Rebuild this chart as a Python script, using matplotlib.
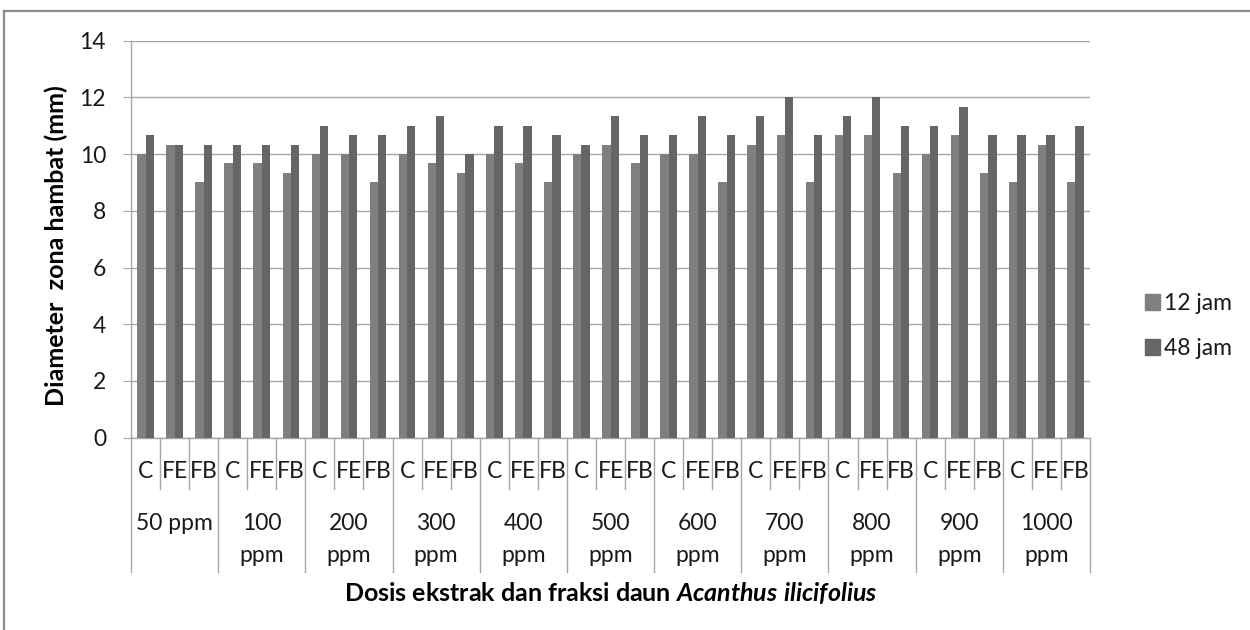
import numpy as np
import matplotlib
matplotlib.use("Agg")
import matplotlib.pyplot as plt
from matplotlib.lines import Line2D
from matplotlib.patches import Patch

plt.rcParams['font.family'] = ['Lato', 'DejaVu Sans']
plt.rcParams['mathtext.fontset'] = 'custom'
plt.rcParams['mathtext.it'] = 'Lato:italic:bold'
plt.rcParams['mathtext.rm'] = 'Lato:bold'

# data
doses = ["50 ppm", "100\nppm", "200\nppm", "300\nppm", "400\nppm", "500\nppm",
         "600\nppm", "700\nppm", "800\nppm", "900\nppm", "1000\nppm"]
treatments = ["C", "FE", "FB"]
jam12 = [10.0, 10.33, 9.0,
         9.67, 9.67, 9.33,
         10.0, 10.0, 9.0,
         10.0, 9.67, 9.33,
         10.0, 9.67, 9.0,
         10.0, 10.33, 9.67,
         10.0, 10.0, 9.0,
         10.33, 10.67, 9.0,
         10.67, 10.67, 9.33,
         10.0, 10.67, 9.33,
         9.0, 10.33, 9.0]
jam48 = [10.67, 10.33, 10.33,
         10.33, 10.33, 10.33,
         11.0, 10.67, 10.67,
         11.0, 11.33, 10.0,
         11.0, 11.0, 10.67,
         10.33, 11.33, 10.67,
         10.67, 11.33, 10.67,
         11.33, 12.0, 10.67,
         11.33, 12.0, 11.0,
         11.0, 11.67, 10.67,
         10.67, 10.67, 11.0]

W, H = 1250, 630
fig = plt.figure(figsize=(12.5, 6.3), dpi=100)
ax = fig.add_axes([131 / W, 1 - 437.7 / H, (1090 - 131) / W, (437.7 - 40.7) / H])

grid_c = '#a6a6a6'
text_c = '#1a1a1a'
fs = 16.5
x = np.arange(len(jam12))
bw = 0.286
ax.bar(x - bw / 2, jam12, bw, color='#7f7f7f', zorder=3, label='12 jam')
ax.bar(x + bw / 2, jam48, bw, color='#666666', zorder=3, label='48 jam')

ax.set_xlim(-0.5, len(x) - 0.5)
ax.set_ylim(0, 14)
ax.set_yticks(np.arange(0, 15, 2))
ax.yaxis.grid(True, color=grid_c, linewidth=1.0, zorder=0)
ax.tick_params(axis='y', length=6, color=grid_c, pad=12, labelsize=fs, labelcolor=text_c)
ax.set_xticks([])
for s in ['top', 'right']:
    ax.spines[s].set_visible(False)
for s in ['left', 'bottom']:
    ax.spines[s].set_color(grid_c)
    ax.spines[s].set_linewidth(1.0)


def ay(py):
    # pixel row -> axes fraction
    return (437.7 - py) / (437.7 - 40.7)


trans = ax.get_xaxis_transform()
n_t = len(treatments)
for i in range(len(x) + 1):
    bottom = 572 if i % n_t == 0 else 489
    ax.plot([i - 0.5, i - 0.5], [0, ay(bottom)], transform=trans, color=grid_c,
            lw=1.0, clip_on=False)
for i in range(len(x)):
    ax.text(i, ay(472), treatments[i % n_t], transform=trans, ha='center', va='center',
            fontsize=fs, color=text_c)
for g, d in enumerate(doses):
    cx = g * n_t + 1
    for k, line in enumerate(d.split("\n")):
        ax.text(cx, ay(523 + 32 * k), line, transform=trans, ha='center', va='center',
                fontsize=fs, color=text_c)

fig.text(611 / W, 1 - 593 / H,
         r"Dosis ekstrak dan fraksi daun $\mathit{Acanthus\ ilicifolius}$",
         ha='center', va='center', fontsize=18, fontweight='bold', color='black')
fig.text(56 / W, 1 - 246 / H, "Diameter  zona hambat (mm)", rotation=90,
         ha='center', va='center', fontsize=18, fontweight='bold', color='black')

handles = [Patch(color='#7f7f7f'), Patch(color='#666666')]
fig.legend(handles, ['12 jam', '48 jam'], loc='center left',
           bbox_to_anchor=(1124 / W, 1 - 326 / H), frameon=False, fontsize=fs,
           handlelength=0.65, handleheight=0.65, handletextpad=0.2, labelspacing=1.05,
           labelcolor=text_c)

# outer chart border (left and top visible)
fig.add_artist(Line2D([4 / W, 4 / W], [0, 1 - 11 / H], color='#8c8c8c', lw=1.6,
                      transform=fig.transFigure))
fig.add_artist(Line2D([4 / W, 1], [1 - 11 / H, 1 - 11 / H], color='#8c8c8c', lw=1.6,
                      transform=fig.transFigure))

fig.savefig('out.png', dpi=100, facecolor='white')
